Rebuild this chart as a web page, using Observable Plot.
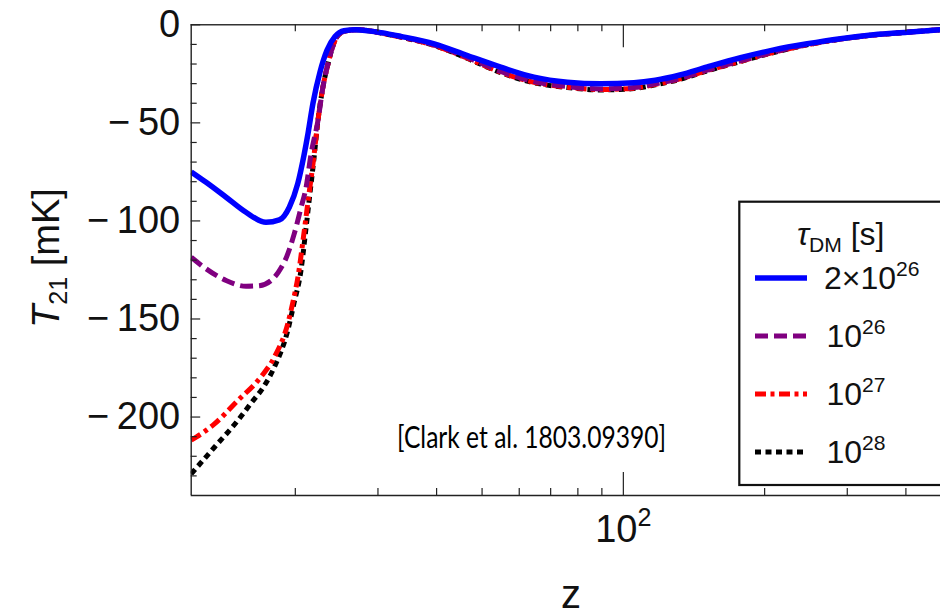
<!DOCTYPE html>
<html><head><meta charset="utf-8">
<script src="https://cdn.jsdelivr.net/npm/d3@7"></script>
<script src="https://cdn.jsdelivr.net/npm/@observablehq/plot@0.6"></script>
<style>body{margin:0;background:#fff}#chart{width:940px;height:615px;overflow:hidden}</style>
</head><body><div id="chart"></div>
<script>
// ---- data ----
const zBlue = [12, 12.91, 14.24, 15.70, 17.32, 18.49, 19.42, 20.24, 20.85, 21.30, 21.81, 22.58, 23.36, 24.30, 25.39, 26.92, 28.6, 30.43, 33.57, 39.54, 46.55, 54.8, 64.5, 76.0, 89.5, 105.3, 117, 132, 151, 177.7, 209.2, 246.4, 290, 341.6, 402.4, 474];
const tBlue = [-75, -80.3, -87.9, -95.6, -100.7, -99.5, -93, -81, -67, -55, -40, -24, -13, -6, -3, -2.5, -3.1, -4.0, -5.9, -9.7, -15.7, -21.6, -26.7, -29.3, -30.1, -29.6, -28.3, -25.6, -21.5, -16.8, -12.8, -9.7, -7.1, -5.1, -3.8, -2.5];

const zPurple = [12, 12.91, 14.24, 15.70, 16.76, 18.19, 18.64, 19.11, 19.87, 20.58, 21.08, 21.60, 22.35, 22.90, 23.48, 24.06, 24.84, 25.90, 27.33, 30.43, 33.57, 39.54, 46.55, 54.8, 64.5, 76.0, 89.5, 105.3, 117, 132, 151, 177.7, 209.2, 246.4, 290, 341.6, 402.4, 474];
const tPurple = [-118.5, -124.4, -130.4, -133.3, -133, -127.8, -124, -119, -107, -93, -83, -66, -48.8, -31.8, -19.9, -10.6, -4.6, -2.9, -2.5, -4.1, -6.1, -10.3, -16.7, -23.8, -29, -31.5, -32.7, -32, -30.1, -27.4, -23.1, -18.4, -13.9, -10.1, -7.3, -5.2, -3.8, -2.5];

const zRed = [12, 13.45, 15.08, 16.90, 18.04, 19.27, 19.74, 20.31, 20.82, 21.34, 21.86, 22.35, 22.90, 23.48, 24.06, 24.84, 25.90, 27.33, 30.43, 33.57, 39.54, 46.55, 54.8, 64.5, 76.0, 89.5, 105.3, 117, 132, 151, 177.7, 209.2, 246.4, 290, 341.6, 402.4, 474];
const tRed = [-211.8, -203.5, -191.6, -179.5, -169.5, -152.5, -142, -127, -108, -88, -69, -48.8, -31.8, -19.9, -10.6, -4.6, -2.9, -2.5, -4.2, -6.3, -10.5, -17, -24.2, -29.3, -31.8, -33, -32.3, -30.4, -27.6, -23.3, -18.6, -14, -10.2, -7.3, -5.2, -3.8, -2.5];

const zBlack = [12, 13.45, 15.08, 16.09, 17.18, 18.04, 19.27, 19.87, 20.56, 21.07, 21.49, 21.92, 22.35, 22.90, 23.48, 24.06, 24.84, 25.90, 27.33, 30.43, 33.57, 39.54, 46.55, 54.8, 64.5, 76.0, 89.5, 105.3, 117, 132, 151, 177.7, 209.2, 246.4, 290, 341.6, 402.4, 474];
const tBlack = [-229, -215.4, -201.8, -193, -184, -174.6, -155.9, -142, -125.3, -104, -86, -68, -48.8, -31.8, -19.9, -10.6, -4.6, -2.9, -2.5, -4.2, -6.3, -10.5, -17.2, -24.4, -29.5, -32, -33.2, -32.5, -30.6, -27.8, -23.5, -18.7, -14.1, -10.2, -7.3, -5.2, -3.8, -2.5];

const seriesLabels = ["2×10^{26}", "10^{26}", "10^{27}", "10^{28}"];
const legendTitle = "*τ*_{DM} [s]";
const xMinorTicks = [20, 30, 40, 50, 60, 70, 80, 90, 200, 300, 400];
const xMajorTicks = [100];
const xMajorLabels = ["10^{2}"];
const yMajorTicks = [0, -50, -100, -150, -200];
const yMinorTicks = [-10, -20, -30, -40, -60, -70, -80, -90, -110, -120, -130, -140, -160, -170, -180, -190, -210, -220, -230];
const xDomain = [12, 474];
const yDomain = [-240, 0];
const xTitle = "z";
const yTitle = "*T*_{21} [mK]";
const note = "[Clark et al. 1803.09390]";

// ---- build tables ----
const rows = (zs, ts) => zs.map((z, i) => ({z, t: ts[i]}));
const styles = [
  {data: rows(zBlue, tBlue), stroke: "#0000ff", dash: null, width: 5.5},
  {data: rows(zPurple, tPurple), stroke: "#800080", dash: "13,6", width: 5},
  {data: rows(zRed, tRed), stroke: "#ff0000", dash: "11,4.5,4,4.5", width: 5},
  {data: rows(zBlack, tBlack), stroke: "#000000", dash: "6,4.5", width: 5}
];
const drawOrder = [3, 2, 1, 0];

const axisColor = "#222";
const plot = Plot.plot({
  width: 940, height: 615,
  marginLeft: 190.7, marginRight: 0, marginTop: 24.3, marginBottom: 120,
  x: {type: "log", domain: xDomain, axis: null},
  y: {domain: yDomain, axis: null},
  style: {fontFamily: "'Liberation Sans', Arial, sans-serif", background: "white", overflow: "visible"},
  marks: [
    ...drawOrder.map(k => Plot.line(styles[k].data, {
      x: "z", y: "t", stroke: styles[k].stroke, strokeWidth: styles[k].width,
      strokeDasharray: styles[k].dash, strokeLinecap: "butt", strokeLinejoin: "round",
      curve: "monotone-x", clip: true
    })),
    // frame
    Plot.ruleY([yDomain[1]], {stroke: "#333", strokeWidth: 1.4}),
    Plot.ruleY([yDomain[0]], {stroke: "#222", strokeWidth: 1.4}),
    Plot.ruleX([xDomain[0]], {stroke: "#222", strokeWidth: 1.4}),
    // bottom ticks
    Plot.ruleX(xMinorTicks, {x: d => d, y1: yDomain[0], y2: yDomain[0], insetBottom: 7, stroke: axisColor, strokeWidth: 1.2}),
    Plot.ruleX(xMajorTicks, {x: d => d, y1: yDomain[0], y2: yDomain[0], insetBottom: 23, stroke: axisColor, strokeWidth: 1.2}),
    // top ticks
    Plot.ruleX(xMinorTicks, {x: d => d, y1: yDomain[1], y2: yDomain[1], insetTop: 7, stroke: axisColor, strokeWidth: 1.2}),
    Plot.ruleX(xMajorTicks, {x: d => d, y1: yDomain[1], y2: yDomain[1], insetTop: 23, stroke: axisColor, strokeWidth: 1.2}),
    // left ticks
    Plot.ruleY(yMinorTicks, {y: d => d, x1: xDomain[0], x2: xDomain[0], insetRight: -6, stroke: axisColor, strokeWidth: 1.2}),
    Plot.ruleY(yMajorTicks, {y: d => d, x1: xDomain[0], x2: xDomain[0], insetRight: -9.5, stroke: axisColor, strokeWidth: 1.2}),
    // tick labels
    Plot.text(yMajorTicks, {x: xDomain[0], y: d => d, text: d => d === 0 ? "0" : "\u2212\u2009" + Math.abs(d),
      textAnchor: "end", dx: -11, fontSize: 38, fill: "#111"}),
    Plot.text(xMajorTicks, {x: d => d, y: yDomain[0], text: (d, i) => xMajorLabels[i], dy: 34, fontSize: 38, fill: "#111"})
  ]
});
document.getElementById("chart").appendChild(plot);

// ---- rich text helper ----
function rich(sel, str, size) {
  sel.text(null);
  const parts = str.split(/(\^\{[^}]*\}|_\{[^}]*\}|\*[^*]*\*)/).filter(s => s !== "");
  let cur = 0;
  for (const p of parts) {
    let txt = p, shift = 0, fs = size, italic = false;
    if (p.startsWith("^{")) { txt = p.slice(2, -1); shift = -0.42 * size; fs = 0.66 * size; }
    else if (p.startsWith("_{")) { txt = p.slice(2, -1); shift = 0.22 * size; fs = 0.66 * size; }
    else if (p.startsWith("*")) { txt = p.slice(1, -1); italic = true; }
    const ts = sel.append("tspan").attr("dy", shift - cur).attr("font-size", fs).text(txt);
    if (italic) ts.attr("font-style", "italic");
    cur = shift;
  }
}

const svg = d3.select(plot);
svg.selectAll("text").each(function() {
  const s = this.textContent;
  if (s.includes("^{") || s.includes("_{")) rich(d3.select(this), s, 38);
});

const font = "'Liberation Sans', Arial, sans-serif";
// axis titles
svg.append("text").attr("x", 571).attr("y", 608).attr("text-anchor", "middle")
  .attr("font-family", font).attr("font-size", 40).attr("fill", "#111").text(xTitle);
const yt = svg.append("text").attr("transform", "translate(59,258) rotate(-90)").attr("text-anchor", "middle")
  .attr("font-family", font).attr("fill", "#111");
rich(yt, yTitle, 38);

// annotation
svg.append("text").attr("x", 397).attr("y", 448).attr("text-anchor", "start")
  .attr("font-family", "Lato, 'Open Sans', sans-serif").attr("font-size", 31).attr("fill", "#000")
  .attr("textLength", 269).attr("lengthAdjust", "spacingAndGlyphs").text(note);

// legend
const lg = svg.append("g");
lg.append("rect").attr("x", 739.3).attr("y", 201.7).attr("width", 230).attr("height", 283.3)
  .attr("fill", "white").attr("stroke", "#111").attr("stroke-width", 2.2);
const lt = lg.append("text").attr("x", 797).attr("y", 245).attr("text-anchor", "start")
  .attr("font-family", font).attr("fill", "#111");
rich(lt, legendTitle, 32);
const rowY = [278, 336, 394, 452];
styles.forEach((s, i) => {
  lg.append("line").attr("x1", 755).attr("x2", 807).attr("y1", rowY[i]).attr("y2", rowY[i])
    .attr("stroke", s.stroke).attr("stroke-width", s.width)
    .attr("stroke-dasharray", s.dash);
  const t = lg.append("text").attr("x", i === 0 ? 824 : 826.5).attr("y", rowY[i] + 11)
    .attr("text-anchor", "start").attr("font-family", font).attr("fill", "#111");
  rich(t, seriesLabels[i], 32);
});
</script>
</body></html>
